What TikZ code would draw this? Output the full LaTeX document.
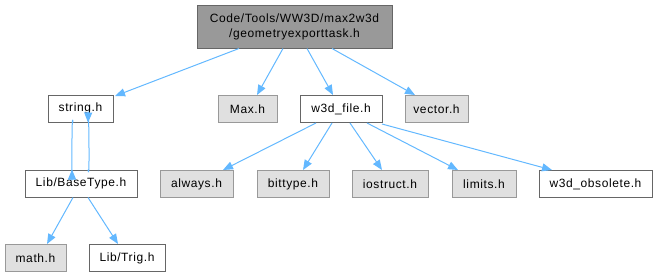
\documentclass[tikz,border=0pt]{standalone}
\usepackage{fontspec}
\setmainfont{Liberation Sans}[LetterSpace=5]
\usetikzlibrary{arrows.meta}
\definecolor{edgeblue}{HTML}{63B8FF}
\definecolor{boxgray}{HTML}{E0E0E0}
\definecolor{topgray}{HTML}{999999}
\definecolor{darkframe}{HTML}{666666}
\definecolor{lightframe}{HTML}{999999}
\begin{document}
\begin{tikzpicture}[x=1pt,y=-1pt,
  every node/.style={font=\fontsize{12}{15}\selectfont, inner sep=0pt, align=center, line width=1pt},
  filebox/.style={draw=darkframe, fill=white, minimum height=27pt},
  extbox/.style={draw=lightframe, fill=boxgray, minimum height=27pt},
  mainbox/.style={draw=darkframe, fill=topgray, minimum height=43pt},
  dep/.style={draw=edgeblue, line width=1pt, -{Triangle[length=10pt,width=8pt]}, color=edgeblue}]
\useasboundingbox (0,0) rectangle (658,277);

% main file
\node[mainbox, minimum width=195pt] (main) at (294.5,26.5) {Code/Tools/WW3D/max2w3d\\/geometryexporttask.h};

% first row of includes
\node[filebox, minimum width=65pt] (string) at (80.5,108.5) {string.h};
\node[extbox, minimum width=59pt] (max) at (247.5,109) {Max.h};
\node[filebox, minimum width=82pt] (w3dfile) at (341,109) {w3d\_file.h};
\node[extbox, minimum width=63pt] (vector) at (436.5,109) {vector.h};

% second row
\node[filebox, minimum width=112pt] (basetype) at (81,183.5) {Lib/BaseType.h};
\node[extbox, minimum width=73pt] (always) at (196.5,184) {always.h};
\node[extbox, minimum width=72pt] (bittype) at (293,184) {bittype.h};
\node[extbox, minimum width=76pt] (iostruct) at (390,184) {iostruct.h};
\node[extbox, minimum width=64pt] (limits) at (484,184) {limits.h};
\node[filebox, minimum width=113pt] (obsolete) at (595.5,184) {w3d\_obsolete.h};

% third row
\node[extbox, minimum width=61pt] (math) at (35.5,258) {math.h};
\node[filebox, minimum width=76pt] (trig) at (127,258) {Lib/Trig.h};

% include edges
\draw[dep] ([xshift=-55.5pt]main.south) -- ([xshift=34.5pt,yshift=-1.5pt]string.north);
\draw[dep] ([xshift=-11.5pt]main.south) -- ([xshift=9.5pt]max.north);
\draw[dep] ([xshift=12.5pt]main.south) -- ([xshift=-8pt]w3dfile.north);
\draw[dep] ([xshift=37.5pt]main.south) -- ([xshift=-21.5pt]vector.north);

\draw[dep] ([xshift=-7.5pt]string.south) .. controls ([xshift=-9pt,yshift=18pt]string.south) and ([xshift=-9pt,yshift=-22pt]basetype.north) .. ([xshift=-9pt]basetype.north);
\draw[dep] ([xshift=7pt]basetype.north) .. controls ([xshift=9pt,yshift=-18pt]basetype.north) and ([xshift=8pt,yshift=22pt]string.south) .. ([xshift=7.5pt]string.south);

\draw[dep] ([xshift=-8pt]basetype.south) -- ([xshift=11.5pt]math.north);
\draw[dep] ([xshift=7pt]basetype.south) -- ([xshift=-9pt]trig.north);

\draw[dep] ([xshift=-25pt]w3dfile.south) -- ([xshift=26.5pt]always.north);
\draw[dep] ([xshift=-9pt]w3dfile.south) -- ([xshift=10pt]bittype.north);
\draw[dep] ([xshift=9pt]w3dfile.south) -- ([xshift=-8pt]iostruct.north);
\draw[dep] ([xshift=26pt]w3dfile.south) -- ([xshift=-26pt]limits.north);
\draw[dep] ([xshift=41pt,yshift=-1pt]w3dfile.south) -- ([xshift=-43.5pt]obsolete.north);
\end{tikzpicture}
\end{document}
